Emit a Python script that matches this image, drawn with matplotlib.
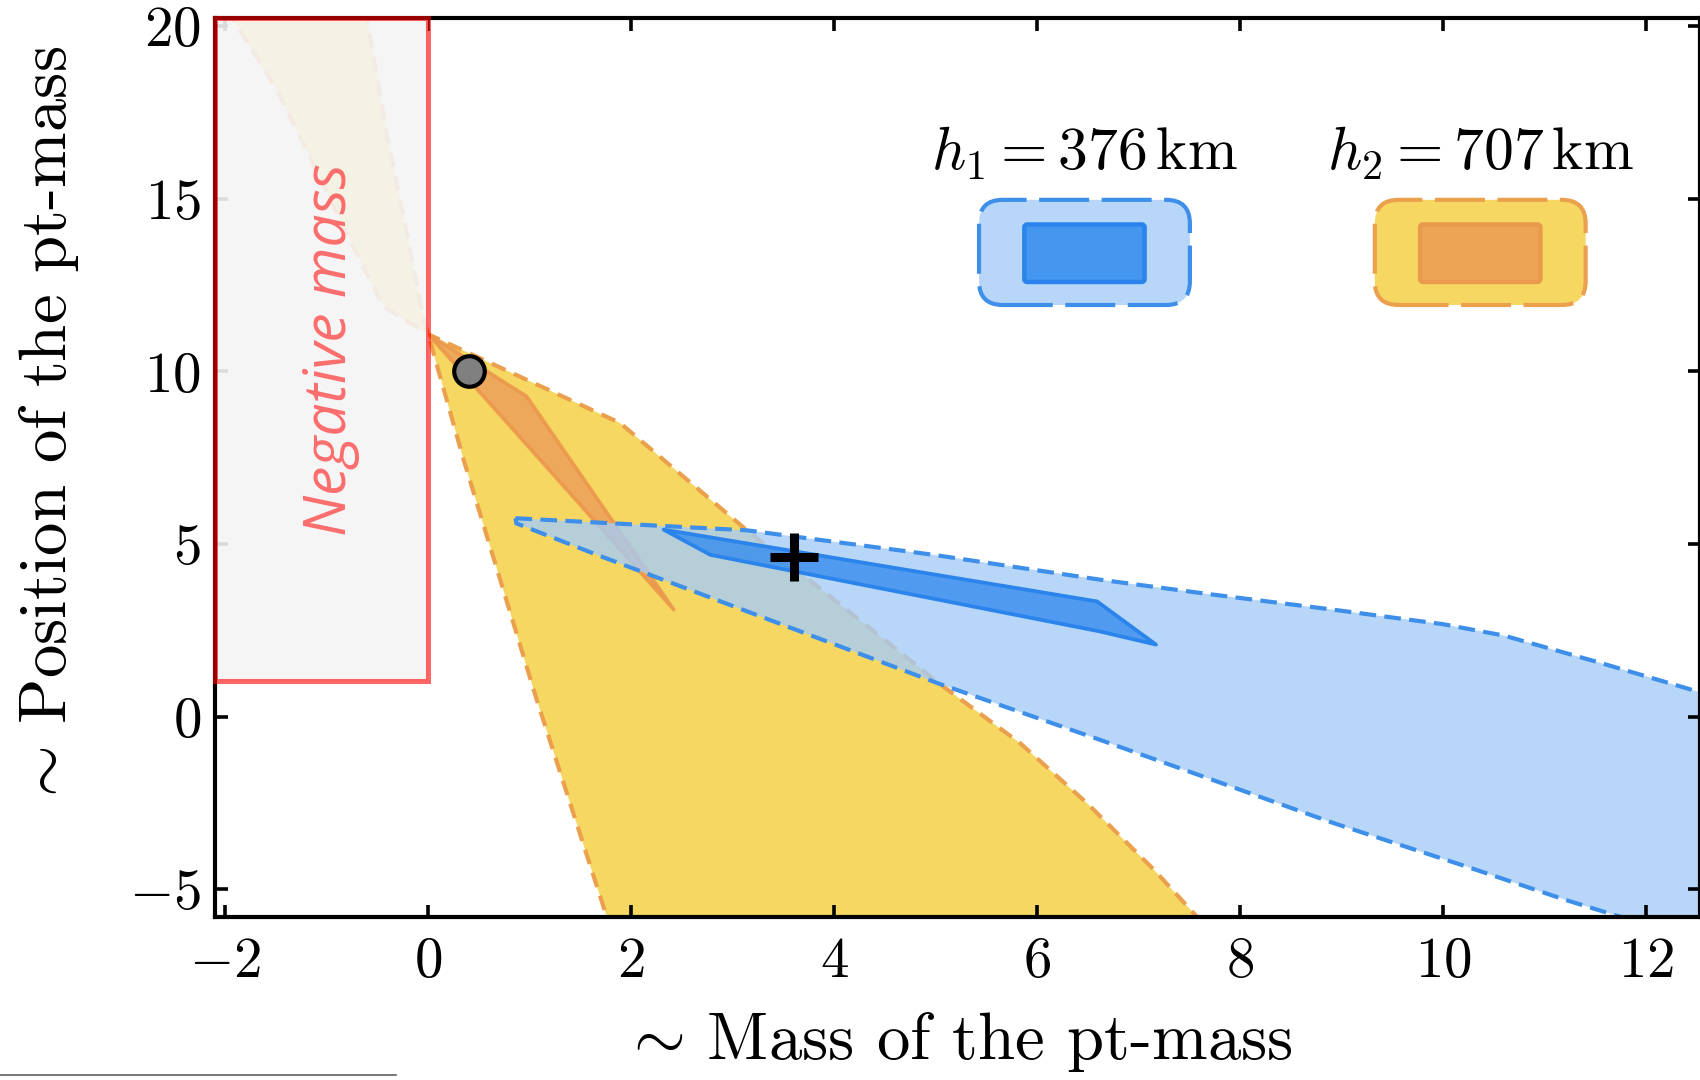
import matplotlib
matplotlib.use("Agg")
import matplotlib.pyplot as plt
from matplotlib.patches import Rectangle, FancyBboxPatch
from matplotlib.lines import Line2D

plt.rcParams["font.family"] = ["cmr10", "DejaVu Serif"]
plt.rcParams["mathtext.fontset"] = "cm"
plt.rcParams["axes.formatter.use_mathtext"] = True
plt.rcParams["axes.unicode_minus"] = True

# ---- data -------------------------------------------------------------
# outer h2 region (one outline, pinched at the apex near m = 0)
h2_outer_x = [-1.98, -1.92, -1.49, -1.20, -0.77, -0.44, 0.00, 1.89, 3.14, 5.05,
              5.83, 6.49, 7.15, 7.57, 7.70, 1.81, 1.76, 1.07, 0.35, 0.00,
              -0.05, -0.21, -0.41, -0.59, -0.62]
h2_outer_y = [20.50, 20.19, 18.16, 16.42, 13.81, 11.88, 11.08, 8.51, 5.40, 0.93,
              -0.76, -2.50, -4.43, -5.78, -6.30, -6.30, -5.80, 0.49, 7.44, 11.08,
              11.59, 14.00, 16.90, 19.99, 20.50]

# inner h2 region
h2_inner_x = [0.00, 0.97, 2.42]
h2_inner_y = [11.08, 9.28, 3.10]

# outer h1 region: upper branch then lower branch
h1_upper_x = [0.86, 1.70, 3.14, 4.98, 6.62, 7.70, 8.92, 10.00, 10.60, 11.55, 12.60, 13.00]
h1_upper_y = [5.75, 5.62, 5.40, 4.69, 3.97, 3.55, 3.10, 2.68, 2.35, 1.56, 0.65, 0.25]
h1_lower_x = [13.00, 12.40, 11.84, 11.20, 10.23, 8.92, 7.70, 6.62, 5.04, 1.69, 0.87]
h1_lower_y = [-7.00, -6.45, -5.88, -5.30, -4.34, -3.08, -1.80, -0.67, 0.95, 4.66, 5.60]

# inner h1 region
h1_inner_x = [2.32, 2.78, 6.62, 7.17, 6.59]
h1_inner_y = [5.42, 4.69, 2.47, 2.09, 3.34]

# reference points
true_point = (0.40, 10.00)
best_fit = (3.60, 4.63)

# excluded (negative mass) band
neg_mass_x = (-2.10, 0.00)
neg_mass_y = (1.05, 20.23)

xlim = (-2.10, 12.53)
ylim = (-5.80, 20.23)
xticks = [-2, 0, 2, 4, 6, 8, 10, 12]
yticks = [-5, 0, 5, 10, 15, 20]

labels = [r"$h_1 = 376\,\mathrm{km}$", r"$h_2 = 707\,\mathrm{km}$"]

# ---- colours ------------------------------------------------------------
yellow = "#F5D762"
yellow_edge = "#EBA04E"
orange_fill = (235 / 255, 150 / 255, 90 / 255, 0.72)
orange_edge = (235 / 255, 150 / 255, 75 / 255, 0.85)
blue_fill = (166 / 255, 204 / 255, 245 / 255, 0.8)
blue_edge = "#3D8FEA"
blue_in_fill = (54 / 255, 140 / 255, 238 / 255, 0.8)
blue_in_edge = "#2A84EC"

# ---- figure -------------------------------------------------------------
fig = plt.figure(figsize=(17, 10.8), dpi=100)
ax = fig.add_axes([215 / 1700, 1 - 917 / 1080, 1485 / 1700, 898.7 / 1080])

ax.fill(h2_outer_x, h2_outer_y, facecolor=yellow, edgecolor=yellow_edge,
        linestyle=(0, (3.6, 2.2)), linewidth=3.0, zorder=1)
ax.fill(h2_inner_x, h2_inner_y, facecolor=orange_fill, edgecolor=orange_edge,
        linewidth=2.6, joinstyle="round", zorder=1.2)

h1_x = h1_upper_x + h1_lower_x
h1_y = h1_upper_y + h1_lower_y
ax.fill(h1_x, h1_y, facecolor=blue_fill, edgecolor="none", zorder=1.5)
ax.fill(h1_inner_x, h1_inner_y, facecolor=blue_in_fill, edgecolor=blue_in_edge,
        linewidth=2.7, joinstyle="round", zorder=1.6)
ax.fill(h1_x, h1_y, facecolor="none", edgecolor=blue_edge,
        linestyle=(0, (4, 2)), linewidth=3.0, zorder=1.7)

# negative-mass band: face under the ticks, outline above the spines
ax.add_patch(Rectangle((neg_mass_x[0], neg_mass_y[0]), neg_mass_x[1] - neg_mass_x[0],
                       neg_mass_y[1] - neg_mass_y[0], facecolor=(0.955, 0.955, 0.955, 0.9),
                       edgecolor="none", zorder=2.4))
ax.add_patch(Rectangle((neg_mass_x[0], neg_mass_y[0]), neg_mass_x[1] - neg_mass_x[0],
                       neg_mass_y[1] - neg_mass_y[0], facecolor="none",
                       edgecolor=(1, 0, 0, 0.6), linewidth=3.6, zorder=3, clip_on=False))
ax.text((neg_mass_x[0] + neg_mass_x[1]) / 2 + 0.09, 10.63, "Negative mass", rotation=90,
        ha="center", va="center", fontsize=42, color=(1, 0.25, 0.25, 0.75),
        family="Open Sans", style="italic", zorder=3)

ax.plot(*true_point, marker="o", markersize=22, markerfacecolor="#808080",
        markeredgecolor="black", markeredgewidth=3, linestyle="none", zorder=4)
ax.plot(*best_fit, marker="+", markersize=35, markeredgecolor="black",
        markeredgewidth=6.5, linestyle="none", zorder=4)

ax.set_xlim(*xlim)
ax.set_ylim(*ylim)
ax.set_xticks(xticks)
ax.set_yticks(yticks)
ax.tick_params(direction="in", top=True, right=True, length=9, width=2.6,
               labelsize=41)
ax.tick_params(axis="x", pad=14)
ax.tick_params(axis="y", pad=10)
for sp in ax.spines.values():
    sp.set_linewidth(3)

ax.set_xlabel(r"${\sim}\,$Mass of the pt-mass", fontsize=48, labelpad=16)
ax.set_ylabel(r"${\sim}\,$Position of the pt-mass", fontsize=48)
ax.yaxis.set_label_coords(-0.0905, 0.545)

# ---- legend keys (drawn in axes fraction) -------------------------------
aspect = 1485 / 898.7
keys = [
    dict(cx=0.5855, fc="#B8D6F7", ec=blue_edge, ifc="#4496EE", iec="#2A84EC"),
    dict(cx=0.852, fc=yellow, ec=yellow_edge, ifc="#ECA653", iec="#EA9A4C"),
]
for k, lab in zip(keys, labels):
    w, h = 0.142, 0.117
    y0 = 0.681
    ax.add_patch(FancyBboxPatch((k["cx"] - w / 2, y0), w, h,
                                boxstyle="round,pad=0,rounding_size=0.016",
                                mutation_aspect=aspect, transform=ax.transAxes,
                                facecolor=k["fc"], edgecolor=k["ec"], linewidth=3.0,
                                linestyle=(0, (12, 3)), zorder=5))
    iw, ih = 0.081, 0.064
    ax.add_patch(FancyBboxPatch((k["cx"] - iw / 2, 0.7066), iw, ih,
                                boxstyle="round,pad=0,rounding_size=0.002",
                                mutation_aspect=aspect, transform=ax.transAxes,
                                facecolor=k["ifc"], edgecolor=k["iec"], linewidth=3.2,
                                zorder=5.1))
    ax.text(k["cx"], 0.831, lab, transform=ax.transAxes, ha="center",
            va="baseline", fontsize=43, zorder=5)

# short rule at the lower left of the page
fig.add_artist(Line2D([0, 396 / 1700], [1 - 1075 / 1080] * 2, color="#606060",
                      linewidth=1.2))

fig.savefig("out.png", dpi=100)
